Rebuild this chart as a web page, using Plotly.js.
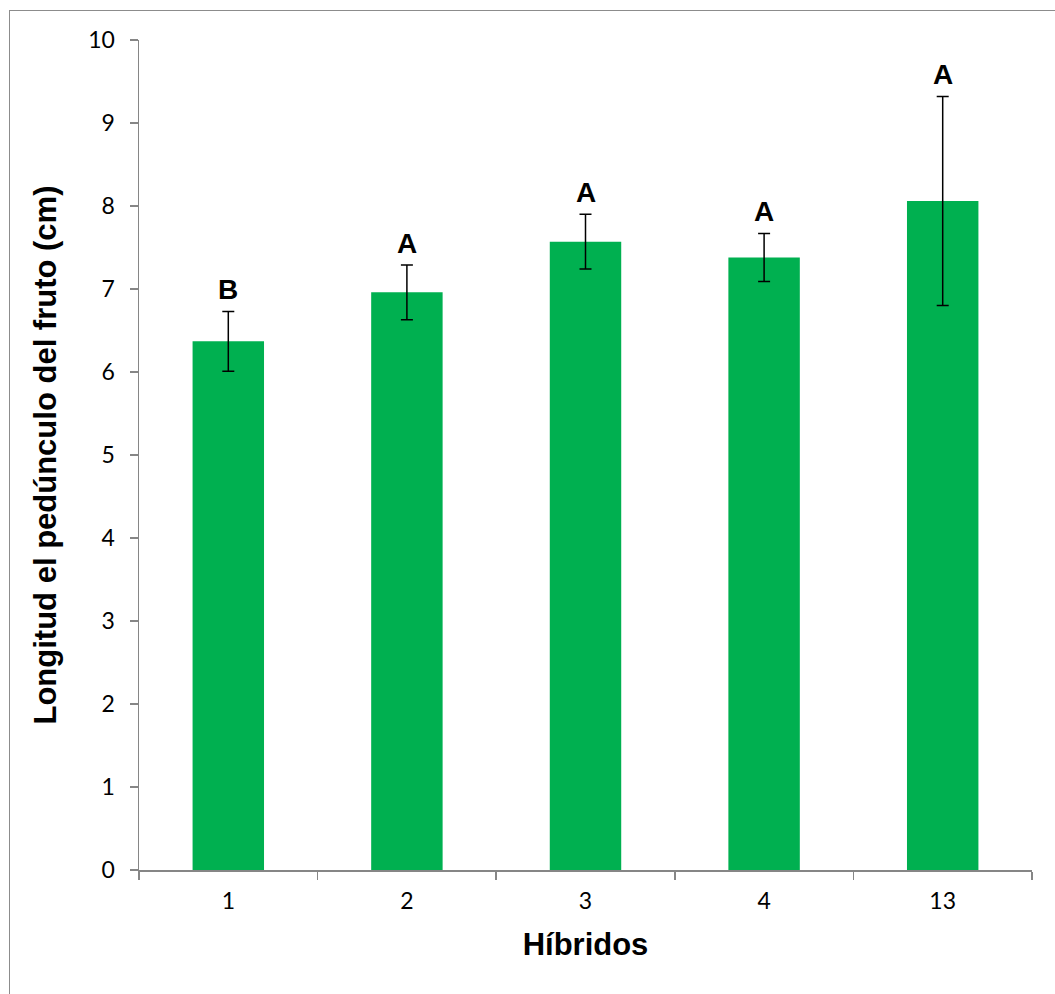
<!DOCTYPE html>
<html>
<head>
<meta charset="utf-8">
<script src="https://cdn.plot.ly/plotly-3.0.1.min.js"></script>
<style>
  html, body { margin: 0; padding: 0; background: #fff; }
  #wrap { position: relative; width: 1055px; height: 994px; overflow: hidden; }
  #chart { position: absolute; left: 0; top: 0; width: 1055px; height: 994px; }
  #frame { position: absolute; left: 9px; top: 10px; width: 1100px; height: 1100px;
           border-top: 1.5px solid #8c8c8c; border-left: 1.5px solid #8c8c8c; pointer-events: none; }
</style>
</head>
<body>
<div id="wrap">
  <div id="chart"></div>
  <div id="frame"></div>
</div>
<script>
// Peduncle length per hybrid (cm), with error and significance letters
const hibridos = ['1', '2', '3', '4', '13'];
const longitud = [6.37, 6.96, 7.57, 7.38, 8.06];
const errorLong = [0.36, 0.33, 0.33, 0.29, 1.26];
const letras = ['B', 'A', 'A', 'A', 'A'];

const titleFont = { family: 'Liberation Sans, Arial, sans-serif', size: 31, color: '#000', weight: 'bold' };
const letterFont = { family: 'Liberation Sans, Arial, sans-serif', size: 28, color: '#000', weight: 'bold' };
const tickFont = { family: 'Lato, Carlito, sans-serif', size: 23, color: '#000' };

const bars = {
  type: 'bar',
  x: hibridos,
  y: longitud,
  width: 0.4,
  marker: { color: '#00B050' },
  error_y: {
    type: 'data',
    array: errorLong,
    visible: true,
    color: '#000000',
    thickness: 1.5,
    width: 6
  },
  hoverinfo: 'x+y'
};

// letters sit just above each error bar; x is the category index
const annotations = hibridos.map((h, i) => ({
  x: i,
  y: longitud[i] + errorLong[i],
  xref: 'x',
  yref: 'y',
  text: letras[i],
  showarrow: false,
  yanchor: 'bottom',
  yshift: 4,
  font: letterFont
}));

const layout = {
  width: 1055,
  height: 994,
  margin: { l: 139, r: 23, t: 40, b: 124 },
  paper_bgcolor: '#ffffff',
  plot_bgcolor: '#ffffff',
  showlegend: false,
  xaxis: {
    type: 'category',
    range: [-0.5, hibridos.length - 0.5],
    showline: true,
    linecolor: '#868686',
    linewidth: 1.5,
    ticks: 'outside',
    tickson: 'boundaries',
    ticklen: 8,
    tickcolor: '#868686',
    tickwidth: 1.5,
    ticklabelstandoff: 10,
    showgrid: false,
    zeroline: false,
    tickfont: tickFont,
    title: { text: 'Híbridos', font: titleFont, standoff: 20 }
  },
  yaxis: {
    range: [0, 10],
    dtick: 1,
    showline: true,
    linecolor: '#868686',
    linewidth: 1.5,
    ticks: 'outside',
    ticklen: 8,
    tickcolor: '#868686',
    tickwidth: 1.5,
    ticklabelstandoff: 10,
    showgrid: false,
    zeroline: false,
    tickfont: tickFont,
    title: { text: 'Longitud el pedúnculo del fruto (cm)', font: titleFont, standoff: 22 }
  },
  annotations: annotations
};

Plotly.newPlot('chart', [bars], layout, { displayModeBar: false, staticPlot: true });
</script>
</body>
</html>
